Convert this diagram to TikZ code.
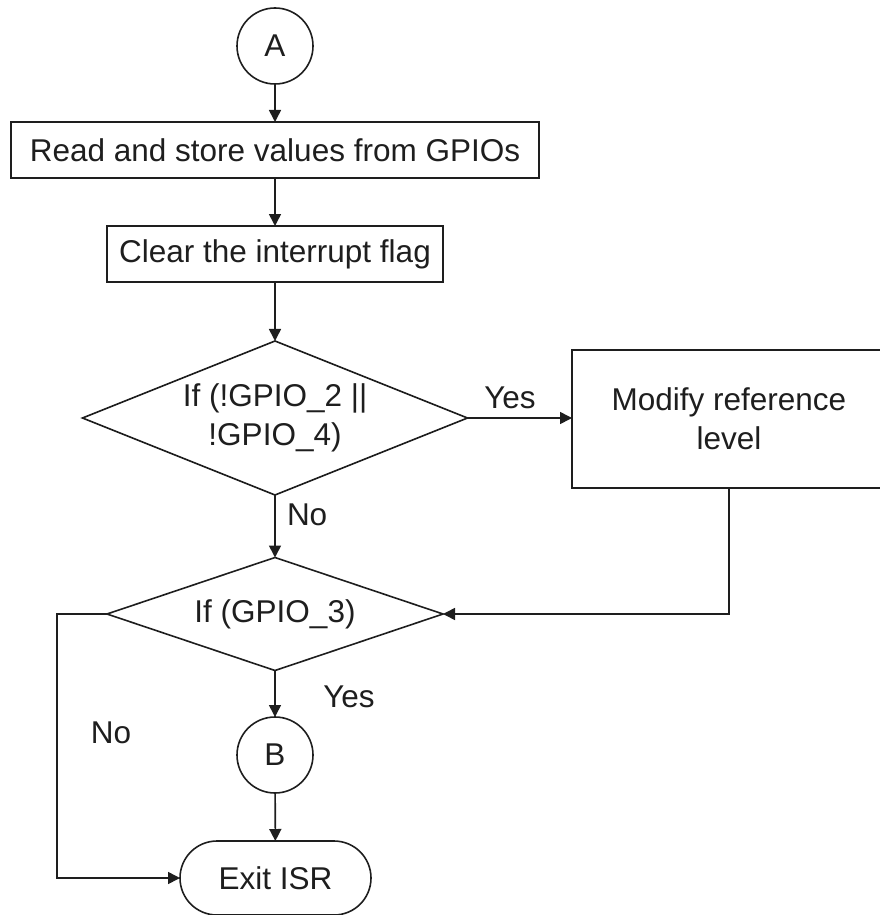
\documentclass[tikz,border=0pt]{standalone}
\usepackage{fontspec}
\setmainfont{Liberation Sans}
\usetikzlibrary{shapes.geometric,arrows.meta}
\definecolor{ink}{HTML}{1E1E1E}
\begin{document}
\begin{tikzpicture}[x=1pt,y=-1pt,
  every node/.style={font=\fontsize{31.5}{39}\selectfont, text=ink, inner sep=0pt, outer sep=0pt},
  shapeline/.style={draw=ink, line width=1.6pt},
  procbox/.style={shapeline, rectangle, align=center},
  decbox/.style={shapeline, diamond, align=center},
  connect/.style={shapeline, circle, minimum size=76pt},
  termbox/.style={shapeline, rectangle, rounded corners=37pt, minimum width=191pt, minimum height=74pt},
  flow/.style={draw=ink, line width=1.6pt, -{Triangle[length=12pt,width=12pt]}},
  lbl/.style={anchor=base}
]
\useasboundingbox (0,0) rectangle (879,915);

\node[connect] (A) at (275,46) {A};
\node[procbox, minimum width=528pt, minimum height=56pt] (read) at (275,150) {Read and store values from GPIOs};
\node[procbox, minimum width=336pt, minimum height=56pt] (clear) at (275,254) {Clear the interrupt flag};
\node[decbox, shape aspect=2.5, minimum width=385pt, minimum height=154pt] (d1) at (275,418) {If (!GPIO\_2 ||\\!GPIO\_4)};
\node[procbox, minimum width=314pt, minimum height=138pt] (mod) at (729,419) {Modify reference\\level};
\node[decbox, shape aspect=2.97, minimum width=336pt, minimum height=113pt] (d2) at (275,614) {If (GPIO\_3)};
\node[connect] (B) at (275,755) {B};
\node[termbox] (exit) at (275.5,878) {Exit ISR};
\coordinate (lft) at (57,614);

\draw[flow] (A) -- (read);
\draw[flow] (read) -- (clear);
\draw[flow] (clear) -- (d1);
\draw[flow] (d1.east) -- (d1.east -| mod.west);
\draw[flow] (d1.south) -- (d2.north);
\draw[flow] (mod.south) |- (d2.east);
\draw[flow] (d2.south) -- (B.north);
\draw[flow] (B) -- (exit);
\draw[flow] (d2.west) -- (lft) |- (exit.west);

\node[lbl] (yes1) at (510,408) {Yes};
\node[lbl, anchor=base west] (no1) at (287,525) {No};
\node[lbl] (yes2) at (349,707) {Yes};
\node[lbl] (no2) at (111,743) {No};
\end{tikzpicture}
\end{document}
